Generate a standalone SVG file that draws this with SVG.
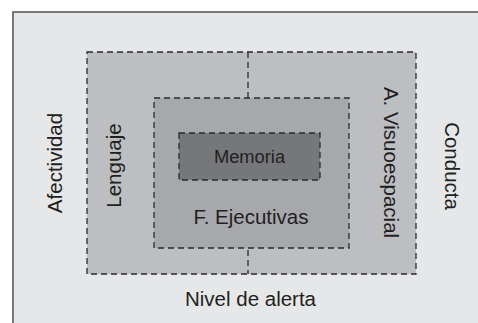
<svg xmlns="http://www.w3.org/2000/svg" width="478" height="323" viewBox="0 0 478 323">
<style>
.dash{stroke:#2b2b2b;stroke-width:1.3;stroke-dasharray:6 4}
.t{font-family:"Liberation Sans",Arial,Helvetica,sans-serif;fill:#231f20;font-size:20.5px;text-anchor:middle}
</style>
<rect x="0" y="0" width="478" height="323" fill="#ffffff"/>
<g id="frame">
<rect x="13" y="12" width="480" height="330" fill="#e6e7e8" stroke="#58595b" stroke-width="1.6"/>
</g>
<g id="outer-box">
<rect class="dash" x="87" y="52" width="329" height="222" fill="#bdbec1"/>
</g>
<g id="ejecutivas">
<rect class="dash" x="154" y="98" width="195" height="150" fill="#a7a8ab"/>
<text class="t" x="251" y="224">F. Ejecutivas</text>
</g>
<g id="memoria">
<rect class="dash" x="179" y="133" width="141" height="47" fill="#76777a"/>
<text class="t" x="249.5" y="163" style="font-size:18.3px">Memoria</text>
</g>
<g id="connectors">
<line class="dash" x1="248" y1="52" x2="248" y2="98" fill="none"/>
<line class="dash" x1="248" y1="250" x2="248" y2="274" fill="none"/>
</g>
<g id="afectividad">
<text class="t" transform="translate(61.5,163) rotate(-90)">Afectividad</text>
</g>
<g id="lenguaje">
<text class="t" transform="translate(121,165.5) rotate(-90)">Lenguaje</text>
</g>
<g id="visuoespacial">
<text class="t" transform="translate(383.5,162.5) rotate(90)">A. Visuoespacial</text>
</g>
<g id="conducta">
<text class="t" transform="translate(445,166) rotate(90)">Conducta</text>
</g>
<g id="nivel">
<text class="t" x="250.5" y="305.5">Nivel de alerta</text>
</g>
</svg>
